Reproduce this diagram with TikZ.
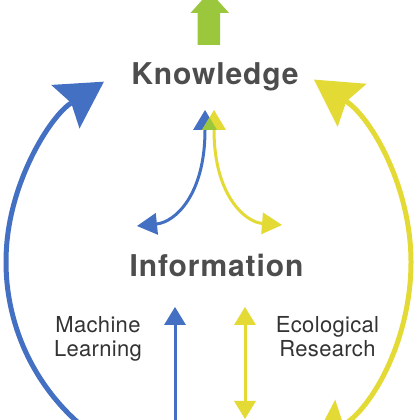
\documentclass[tikz,border=0pt]{standalone}
\usepackage{fontspec}
\setmainfont{TeX Gyre Heros}
\newfontfamily\bigfont[LetterSpace=3]{TeX Gyre Heros}
\newfontfamily\smallfont[LetterSpace=1.5]{TeX Gyre Heros}
\usetikzlibrary{arrows.meta}
\definecolor{cblue}{HTML}{4370C2}
\definecolor{cyell}{HTML}{E4DA36}
\definecolor{cgreen}{HTML}{9BC73D}
\definecolor{ctext}{HTML}{4D4D4D}
\definecolor{csmall}{HTML}{333333}
\tikzset{
  BigH/.tip={Stealth[length=46pt,width=52pt,inset=7pt,line width=0pt]},
  SmH/.tip={Triangle[length=20pt,width=24pt,line width=0pt]},
  EndH/.tip={Triangle[length=20pt,width=22pt,line width=0pt]},
  VH/.tip={Triangle[length=18pt,width=22pt,line width=0pt]}
}
\begin{document}
\begin{tikzpicture}[x=1pt,y=1pt,
  bigarc/.style={line width=5pt},
  smallarr/.style={line width=3pt},
  titletext/.style={font=\bigfont\bfseries\fontsize{30}{32}\selectfont, text=ctext, anchor=base, inner sep=0pt},
  sidetext/.style={font=\smallfont\fontsize{22}{24}\selectfont, text=csmall, align=center, inner sep=0pt, anchor=base}
]
\useasboundingbox (0,0) rectangle (420,420);
\clip (0,0) rectangle (420,420);

% top green arrow
\fill[cgreen] (197.5,375) -- (220,375) -- (220,407) -- (229,407) -- (209.75,428.5) -- (190.5,407) -- (197.5,407) -- cycle;

% texts
\node[titletext] (know) at (215,335) {Knowledge};
\node[titletext] (info) at (216.5,143) {Information};
\node[sidetext] (ml) at (98,63) {Machine\\Learning};
\node[sidetext] (er) at (327.5,63) {Ecological\\Research};

% named ends
\coordinate (kb) at (205,310);
\coordinate (ky) at (214,310);
\coordinate (ib) at (137,194);
\coordinate (iy) at (282,195);
\coordinate (mlb) at (175,-5);
\coordinate (mlt) at (175,113);
\coordinate (ert) at (245,113);
\coordinate (erb) at (245,1);

% small curved arrows
\draw[smallarr, cblue, SmH-EndH] (kb) .. controls (205,225) and (175,198) .. (ib);
\draw[smallarr, cyell, SmH-EndH] (ky) .. controls (214,225) and (245,198) .. (iy);
\fill[cgreen] (202,290) -- (217,290) -- (209.5,302.5) -- cycle;

% vertical arrows
\draw[smallarr, cblue, -VH] (mlb) -- (mlt);
\draw[smallarr, cyell, VH-VH] (erb) -- (ert);

% big arcs
\draw[bigarc, cblue, -BigH] (221,158) ++(232:215) arc[start angle=232, end angle=123, radius=215];
\draw[bigarc, cyell, BigH-BigH] (191,158) ++(-57:220) arc[start angle=-57, end angle=56, radius=220];
\end{tikzpicture}
\end{document}
